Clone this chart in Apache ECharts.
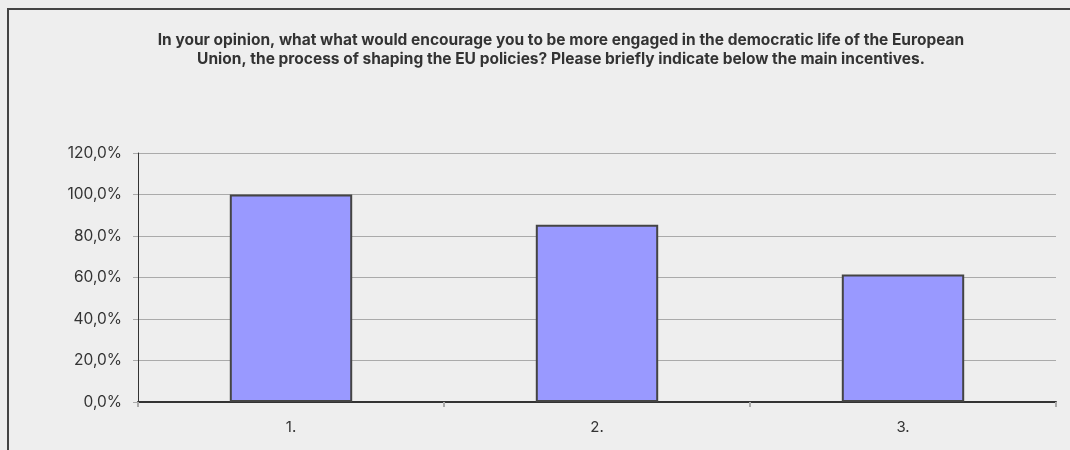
<!DOCTYPE html>
<html lang="en">
<head>
    <meta charset="UTF-8">
    <title>EU engagement</title>
    <style>
        body{ margin:0; background:#eeeeee; }
    </style>
</head>
<body>
<div id="myChart" style="width:1070px;height:450px;"></div>
<script src="https://cdn.jsdelivr.net/npm/echarts@6/dist/echarts.min.js"></script>
<script>
    var categories = ['1.', '2.', '3.'];
    var values = [100.0, 85.4, 61.5];
    var yTicks = [0, 20, 40, 60, 80, 100, 120];

    var myChart = echarts.init(document.getElementById('myChart'));
    var font = 'Inter, "Liberation Sans", sans-serif';

    option = {
        backgroundColor: '#eeeeee',
        textStyle: { fontFamily: font },
        title: {
            text: 'In your opinion, what what would encourage you to be more engaged in the democratic life of the European\nUnion, the process of shaping the EU policies? Please briefly indicate below the main incentives.',
            left: 556,
            top: 26,
            textAlign: 'center',
            textStyle: { fontSize: 15.5, fontWeight: 'bold', color: '#333', lineHeight: 19, fontFamily: font, letterSpacing: -0.3 }
        },
        graphic: [{
            type: 'rect',
            shape: { x: 8, y: 9, width: 1200, height: 600 },
            style: { fill: 'none', stroke: '#444', lineWidth: 2 },
            silent: true
        }],
        grid: { left: 138, right: 14, top: 153, bottom: 48 },
        xAxis: {
            type: 'category',
            data: categories,
            axisLine: { lineStyle: { color: '#333', width: 2 } },
            axisTick: { show: true, length: 5, lineStyle: { color: '#aaa', width: 2 } },
            axisLabel: { color: '#333', fontSize: 15, margin: 18 }
        },
        yAxis: {
            type: 'value',
            min: yTicks[0],
            max: yTicks[yTicks.length - 1],
            interval: 20,
            axisLine: { show: true, lineStyle: { color: '#333', width: 1 } },
            axisTick: { show: true, length: 5, lineStyle: { color: '#aaa' } },
            splitLine: { lineStyle: { color: '#aaa', width: 1 } },
            axisLabel: {
                color: '#333', fontSize: 15.5, margin: 16,
                formatter: function (v) { return v.toFixed(1).replace('.', ',') + '%'; }
            }
        },
        series: [{
            type: 'bar',
            data: values,
            barWidth: '40%',
            itemStyle: { color: '#9999ff', borderColor: '#444', borderWidth: 2 }
        }]
    };
    myChart.setOption(option);
</script>
</body>
</html>
